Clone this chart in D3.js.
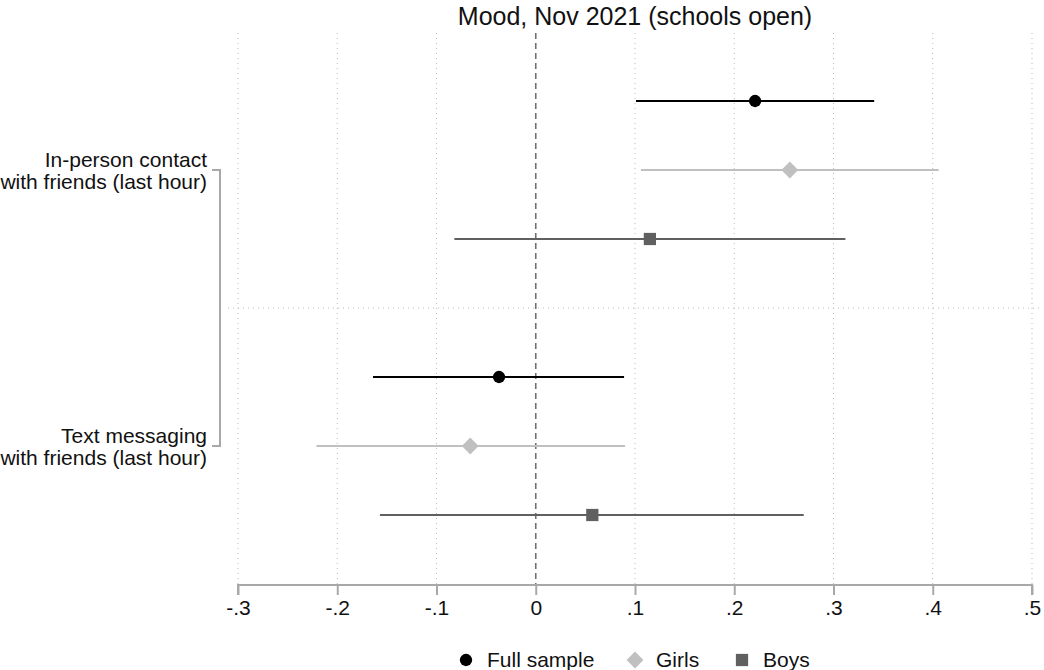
<html>
<head>
<meta charset="utf-8">
<script src="https://d3js.org/d3.v7.min.js"></script>
</head>
<body style="margin:0">
<svg id="coefplot" width="1044" height="670"></svg>
<style>
  text { font-family: Arial, "Liberation Sans", sans-serif; fill: #111; }
</style>
<script>
// data
const groups = ['In-person contact|with friends (last hour)', 'Text messaging|with friends (last hour)']
const series = ['Full sample', 'Girls', 'Boys']
const est   = [[0.221, 0.256, 0.115], [-0.037, -0.066, 0.057]]
const lower = [[0.101, 0.106, -0.082], [-0.164, -0.221, -0.157]]
const upper = [[0.341, 0.406, 0.312], [0.089, 0.090, 0.270]]
const xTicks = [-0.3, -0.2, -0.1, 0, 0.1, 0.2, 0.3, 0.4, 0.5]

const colors = ['#000000', '#c0c0c0', '#606060']
const shapes = [d3.symbolCircle, d3.symbolDiamond2, d3.symbolSquare]
const sizes = [120, 180, 150]

let svg = d3.select('svg#coefplot')
const plotLeft = 228, plotRight = 1040

let x = d3.scaleLinear().domain([-0.3, 0.5]).range([238, 1032])

// rows: each group gets 3 rows plus a gap row between groups
let rows = []
groups.forEach((g, gi) => series.forEach((s, si) => rows.push({gi, si, key: gi * 4 + si})))
let y = d3.scaleLinear().domain([0, 6]).range([101, 515])

// vertical gridlines
svg.append('g').selectAll('line.grid')
   .data(xTicks.filter(d => d !== 0))
   .join('line')
   .attr('class', 'grid')
   .attr('x1', d => x(d)).attr('x2', d => x(d))
   .attr('y1', 33).attr('y2', 584)
   .attr('stroke', '#bbbbbb').attr('stroke-width', 1)
   .attr('stroke-dasharray', '1,4')

// horizontal separator between groups
svg.append('line')
   .attr('x1', plotLeft).attr('x2', plotRight)
   .attr('y1', y(3)).attr('y2', y(3))
   .attr('stroke', '#bbbbbb').attr('stroke-dasharray', '1,4')

// zero line
svg.append('line')
   .attr('x1', x(0)).attr('x2', x(0))
   .attr('y1', 33).attr('y2', 584)
   .attr('stroke', '#707070').attr('stroke-width', 1.6)
   .attr('stroke-dasharray', '6,4')

// x axis
let xaxis = svg.append('g')
   .attr('transform', 'translate(0,585)')
   .call(d3.axisBottom(x).tickValues(xTicks).tickSize(10).tickPadding(5)
         .tickFormat(d => d === 0 ? '0' : d3.format('.1f')(d).replace('0.', '.').replace('−', '-')))
xaxis.select('path.domain').attr('stroke', '#a8a8a8').attr('stroke-width', 2)
     .attr('d', `M${x(-0.3)},10V0H${x(0.5)}V10`)
xaxis.selectAll('line').attr('stroke', '#a8a8a8').attr('stroke-width', 2)
xaxis.selectAll('text').attr('font-size', '21px').attr('fill', '#111')
     .style('font-family', 'Arial, "Liberation Sans", sans-serif')

// y bracket
let bTop = y(1), bBot = y(5)
svg.append('path')
   .attr('d', `M212,${bTop}H220V${bBot}H212`)
   .attr('fill', 'none').attr('stroke', '#a8a8a8').attr('stroke-width', 2)

// group labels
groups.forEach((g, gi) => {
  let lines = g.split('|')
  let t = svg.append('text')
     .attr('text-anchor', 'end')
     .attr('font-size', '21px')
     .attr('x', 207)
     .attr('y', y(gi * 4 + 1) - 3)
  lines.forEach((l, li) => t.append('tspan').attr('x', 207).attr('dy', li === 0 ? 0 : 22).text(l))
})

// CIs
svg.selectAll('line.ci')
   .data(rows)
   .join('line')
   .attr('class', 'ci')
   .attr('x1', d => x(lower[d.gi][d.si]))
   .attr('x2', d => x(upper[d.gi][d.si]))
   .attr('y1', d => y(d.key)).attr('y2', d => y(d.key))
   .attr('stroke', d => colors[d.si]).attr('stroke-width', 2.2)

// point estimates
svg.selectAll('path.pt')
   .data(rows)
   .join('path')
   .attr('class', 'pt')
   .attr('d', d => d3.symbol(shapes[d.si], sizes[d.si])())
   .attr('transform', d => `translate(${x(est[d.gi][d.si])},${y(d.key)})`)
   .attr('fill', d => colors[d.si])

// title
svg.append('text')
   .attr('x', 635).attr('y', 25)
   .attr('text-anchor', 'middle')
   .attr('font-size', '25px')
   .text('Mood, Nov 2021 (schools open)')

// legend
const legX = [466, 635, 742]
let leg = svg.selectAll('g.leg')
   .data(series)
   .join('g')
   .attr('class', 'leg')
   .attr('transform', (d, i) => `translate(${legX[i]},660)`)
leg.append('path')
   .attr('d', (d, i) => d3.symbol(shapes[i], sizes[i])())
   .attr('fill', (d, i) => colors[i])
leg.append('text')
   .attr('x', 21).attr('y', 7)
   .attr('font-size', '21px')
   .text(d => d)
</script>
</body>
</html>
